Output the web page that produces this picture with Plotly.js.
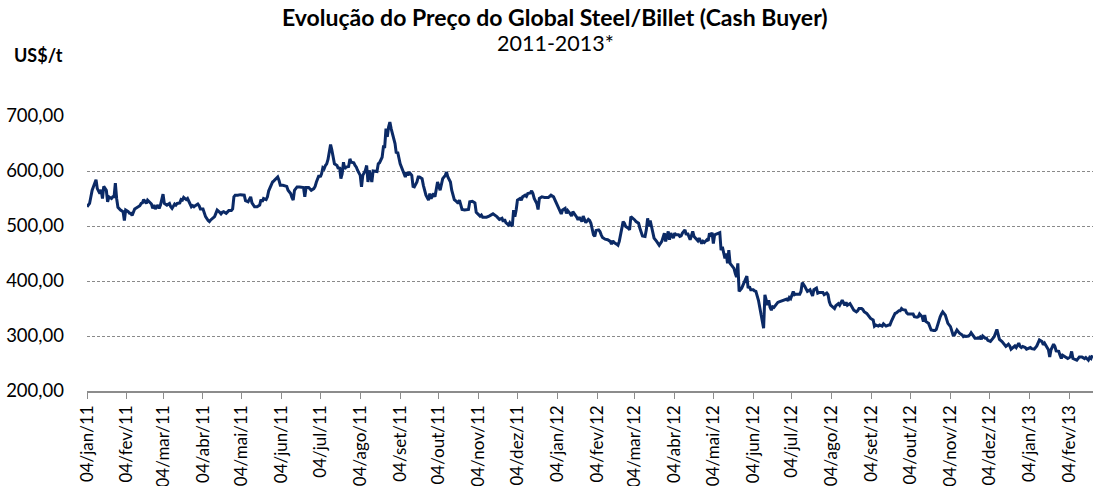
<!DOCTYPE html>
<html>
<head>
<meta charset="utf-8">
<script src="https://cdn.plot.ly/plotly-3.0.1.min.js"></script>
<style>
html,body{margin:0;padding:0;background:#fff;}
#chart{width:1094px;height:486px;}
</style>
</head>
<body>
<div id="chart"></div>
<script>
// Dates (MM-DD) and prices (US$/t)
const days2011 = ["01-04","01-06","01-08","01-10","01-11","01-12","01-14","01-15","01-16","01-17","01-19","01-20","01-21","01-23","01-24","01-25","01-26","01-27","01-28","01-30",
"02-01","02-02","02-03","02-05","02-06","02-07","02-08","02-10","02-12","02-14","02-15","02-16","02-17","02-19","02-20","02-21","02-23","02-24","02-25","02-26","02-28",
"03-01","03-02","03-04","03-05","03-07","03-09","03-10","03-11","03-13","03-14","03-15","03-17","03-18","03-19","03-20","03-22","03-23","03-24","03-26","03-27","03-28","03-29","03-31",
"04-01","04-02","04-04","04-05","04-06","04-08","04-09","04-10","04-11","04-13","04-14","04-15","04-17","04-18","04-19","04-20","04-22","04-23","04-24","04-26","04-27","04-28","04-29",
"05-01","05-03","05-06","05-07","05-09","05-10","05-11","05-12","05-14","05-15","05-16","05-18","05-19","05-20","05-21","05-23","05-24","05-25","05-27","05-28","05-29","05-30",
"06-01","06-02","06-03","06-05","06-08","06-09","06-11","06-12","06-13","06-14","06-16","06-18","06-21","06-22","06-23","06-25","06-26","06-27","06-29","06-30",
"07-01","07-03","07-04","07-05","07-06","07-07","07-08","07-09","07-10","07-11","07-12","07-13","07-14","07-15","07-17","07-18","07-19","07-20","07-21","07-22","07-23","07-24","07-26","07-27","07-28","07-30","07-31",
"08-01","08-02","08-04","08-05","08-06","08-08","08-09","08-10","08-11","08-13","08-14","08-17","08-18","08-19","08-21","08-22","08-23","08-24","08-25","08-26","08-27","08-28","08-30","08-31",
"09-01","09-02","09-04","09-05","09-06","09-08","09-09","09-10","09-11","09-13","09-14","09-15","09-17","09-18","09-19","09-21","09-22","09-23","09-24","09-26","09-27","09-28","09-30",
"10-01","10-02","10-03","10-05","10-06","10-07","10-09","10-10","10-11","10-13","10-14","10-15","10-16","10-18","10-19","10-20","10-22","10-24","10-27","10-28","10-30",
"11-01","11-02","11-05","11-06","11-07","11-10","11-12","11-15","11-18","11-20","11-22","11-23","11-24","11-25","11-27","11-28","11-29","11-30",
"12-01","12-02","12-03","12-04","12-06","12-07","12-08","12-10","12-11","12-12","12-14","12-15","12-16","12-17","12-19","12-20","12-21","12-23","12-25","12-28","12-29","12-30"];
const prices2011 = [535,541,565,580,584,568,559,566,550,572,565,544,553,550,553,553,578,550,534,529,
526,510,529,526,523,523,519,531,534,537,541,542,548,541,547,544,540,532,538,531,538,
532,538,558,541,538,541,535,532,540,538,541,542,548,547,552,548,550,544,535,537,535,537,540,
537,531,531,523,517,510,508,511,513,517,523,529,525,522,525,526,523,526,528,528,531,553,556,
556,557,556,546,544,550,553,542,535,535,535,538,548,544,550,548,553,564,577,580,582,584,
589,583,574,574,572,565,559,552,547,565,571,571,570,553,570,570,568,565,568,572,
580,592,589,595,606,604,610,613,621,632,648,638,622,613,610,604,607,586,595,616,604,607,608,622,616,615,610,
607,601,592,571,592,601,610,580,601,580,600,599,613,615,625,644,644,677,662,680,689,677,662,650,
632,635,613,606,600,589,598,592,598,592,572,571,580,589,589,586,574,562,556,547,559,550,559,
553,568,580,565,574,586,592,598,589,580,565,556,548,544,541,547,530,529,530,544,545,
542,525,518,520,516,516,518,522,517,512,514,508,512,506,502,506,502,500,
529,517,529,547,550,547,553,556,554,559,560,564,559,550,541,530,550,553,552,552,554,556];

const days2012 = ["01-01","01-02","01-03","01-05","01-06","01-07","01-08","01-10","01-11","01-12","01-14","01-15","01-16","01-17","01-19","01-20","01-21","01-23","01-24","01-25","01-26","01-28","01-29","01-30",
"02-01","02-02","02-03","02-05","02-06","02-07","02-08","02-10","02-11","02-12","02-14","02-15","02-16","02-17","02-19","02-20","02-21","02-23","02-24","02-25","02-26","02-28","02-29",
"03-01","03-03","03-04","03-05","03-07","03-08","03-09","03-10","03-12","03-13","03-14","03-15","03-16","03-17","03-18","03-19","03-21","03-22","03-23","03-25","03-26","03-27","03-28","03-30","03-31",
"04-01","04-03","04-04","04-05","04-07","04-08","04-09","04-10","04-12","04-13","04-14","04-16","04-17","04-18","04-19","04-21","04-22","04-23","04-25","04-26","04-27","04-29","04-30",
"05-01","05-02","05-03","05-04","05-05","05-06","05-08","05-09","05-10","05-11","05-13","05-14","05-15","05-16","05-17","05-18","05-20","05-21","05-22","05-23","05-24","05-26","05-27","05-28","05-30","05-31",
"06-01","06-02","06-04","06-05","06-06","06-08","06-09","06-10","06-11","06-12","06-13","06-15","06-16","06-17","06-18","06-19","06-20","06-22","06-23","06-24","06-26","06-27","06-28","06-30",
"07-01","07-02","07-03","07-05","07-06","07-07","07-09","07-10","07-11","07-12","07-14","07-15","07-16","07-18","07-19","07-20","07-21","07-23","07-24","07-25","07-28","07-29","07-31",
"08-01","08-02","08-03","08-05","08-06","08-07","08-09","08-10","08-11","08-12","08-14","08-15","08-16","08-18","08-19","08-20","08-21","08-23","08-24","08-25","08-27","08-28","08-29","08-31",
"09-01","09-02","09-03","09-05","09-06","09-07","09-09","09-10","09-12","09-13","09-14","09-15","09-17","09-18","09-19","09-21","09-22","09-23","09-25","09-26","09-27","09-28","09-30",
"10-01","10-02","10-04","10-05","10-06","10-07","10-09","10-10","10-11","10-13","10-14","10-15","10-16","10-18","10-19","10-20","10-22","10-23","10-24","10-26","10-27","10-28","10-29","10-31",
"11-01","11-02","11-04","11-05","11-06","11-07","11-09","11-10","11-11","11-13","11-14","11-15","11-16","11-18","11-19","11-20","11-22","11-23","11-24","11-26","11-27","11-28","11-29",
"12-01","12-02","12-03","12-05","12-06","12-07","12-08","12-10","12-11","12-12","12-14","12-15","12-16","12-17","12-19","12-20","12-21","12-23","12-24","12-25","12-27","12-28","12-29","12-30"];
const prices2012 = [553,548,541,534,526,522,529,532,523,528,522,518,526,523,516,511,516,508,518,512,506,512,510,505,
484,481,492,493,490,484,479,476,476,475,472,467,473,470,467,465,472,496,508,505,499,496,493,
517,514,511,508,505,496,487,482,481,493,514,499,510,499,487,478,472,468,465,472,478,487,472,490,475,
487,478,487,484,484,481,482,487,493,484,487,475,484,490,481,476,473,478,468,472,470,475,473,
487,481,488,468,484,485,488,488,456,462,441,450,432,456,432,429,423,414,407,432,381,387,393,399,409,387,
390,384,384,382,381,365,352,341,332,314,375,356,365,352,347,353,352,359,361,362,364,365,365,367,
364,370,368,381,375,376,376,376,381,397,390,384,381,384,378,373,384,387,378,379,379,375,378,
375,362,356,352,350,355,359,356,362,365,356,361,356,359,355,352,347,344,346,350,350,348,344,341,
338,335,332,329,318,320,318,320,318,322,320,318,320,320,326,338,341,342,346,346,350,348,347,
342,340,340,340,340,335,334,335,340,335,326,338,326,323,316,311,310,310,312,329,335,340,344,338,
329,323,317,310,302,302,311,308,305,302,299,300,299,300,302,306,299,296,296,296,298,294,300,
296,296,292,290,293,294,299,312,300,294,290,287,284,281,285,282,276,281,282,279,287,281,279,281];

const days2013 = ["01-01","01-02","01-03","01-05","01-06","01-07","01-08","01-10","01-11","01-12","01-14","01-15","01-16","01-17","01-19","01-20","01-21","01-23","01-24","01-25","01-27","01-28","01-29","01-30",
"02-01","02-02","02-03","02-05","02-06","02-07","02-08","02-10","02-11","02-12","02-14","02-15","02-16","02-17","02-19","02-20","02-21","02-22"];
const prices2013 = [279,276,277,279,277,276,276,282,287,293,290,284,287,282,275,262,275,285,281,273,272,265,259,265,
262,259,259,262,272,259,258,256,259,262,262,261,259,261,256,261,259,265];

const xTickDates = ["2011-01-04","2011-02-04","2011-03-04","2011-04-04","2011-05-04","2011-06-04","2011-07-04","2011-08-04","2011-09-04","2011-10-04","2011-11-04","2011-12-04",
"2012-01-04","2012-02-04","2012-03-04","2012-04-04","2012-05-04","2012-06-04","2012-07-04","2012-08-04","2012-09-04","2012-10-04","2012-11-04","2012-12-04",
"2013-01-04","2013-02-04"];
const xTickLabels = ["04/jan/11","04/fev/11","04/mar/11","04/abr/11","04/mai/11","04/jun/11","04/jul/11","04/ago/11","04/set/11","04/out/11","04/nov/11","04/dez/11",
"04/jan/12","04/fev/12","04/mar/12","04/abr/12","04/mai/12","04/jun/12","04/jul/12","04/ago/12","04/set/12","04/out/12","04/nov/12","04/dez/12",
"04/jan/13","04/fev/13"];
const yTickValues = [200,300,400,500,600,700];
const yTickLabels = ["200,00","300,00","400,00","500,00","600,00","700,00"];

const chartTitle = "Evolução do Preço do Global Steel/Billet (Cash Buyer)";
const chartSubtitle = "2011-2013*";
const unitLabel = "US$/t";

const xDates = [].concat(
  days2011.map(d => "2011-" + d),
  days2012.map(d => "2012-" + d),
  days2013.map(d => "2013-" + d)
);
const yPrices = [].concat(prices2011, prices2012, prices2013);

const FONT = "Lato, 'Open Sans', 'Liberation Sans', sans-serif";

const trace = {
  type: "scatter",
  mode: "lines",
  x: xDates,
  y: yPrices,
  line: {color: "#0B2A66", width: 3},
  hoverinfo: "x+y"
};

const layout = {
  width: 1094,
  height: 486,
  margin: {l: 87, r: 1, t: 116, b: 95},
  paper_bgcolor: "#ffffff",
  plot_bgcolor: "#ffffff",
  showlegend: false,
  font: {family: FONT, color: "#000000", size: 17},
  xaxis: {
    type: "date",
    range: ["2011-01-04", "2013-02-22 14:00"],
    tickmode: "array",
    tickvals: xTickDates,
    ticktext: xTickLabels,
    tickangle: -90,
    ticks: "outside",
    ticklen: 6,
    tickwidth: 1,
    tickcolor: "#8c8c8c",
    showline: true,
    linecolor: "#8c8c8c",
    linewidth: 1.5,
    showgrid: false,
    zeroline: false,
    tickfont: {family: FONT, size: 17, color: "#000000"}
  },
  yaxis: {
    range: [200, 700],
    tickmode: "array",
    tickvals: yTickValues,
    ticktext: yTickLabels,
    ticks: "",
    showline: false,
    zeroline: false,
    showgrid: true,
    gridcolor: "#8a8a8a",
    gridwidth: 1,
    griddash: "3px,2px",
    ticklabelstandoff: 22,
    tickfont: {family: FONT, size: 18.5, color: "#000000"}
  },
  annotations: [
    {text: "<b>" + chartTitle + "</b>", xref: "paper", yref: "paper", x: 0.4657, y: 1.36,
     xanchor: "center", yanchor: "middle", showarrow: false, font: {family: FONT, size: 23, color: "#000"}},
    {text: chartSubtitle, xref: "paper", yref: "paper", x: 0.4657, y: 1.265,
     xanchor: "center", yanchor: "middle", showarrow: false, font: {family: FONT, size: 21.5, color: "#000"}},
    {text: "<b>" + unitLabel + "</b>", xref: "paper", yref: "paper", x: -0.0487, y: 1.222,
     xanchor: "center", yanchor: "middle", showarrow: false, font: {family: FONT, size: 18, color: "#000"}}
  ]
};

Plotly.newPlot("chart", [trace], layout, {displayModeBar: false, staticPlot: true});
</script>
</body>
</html>
